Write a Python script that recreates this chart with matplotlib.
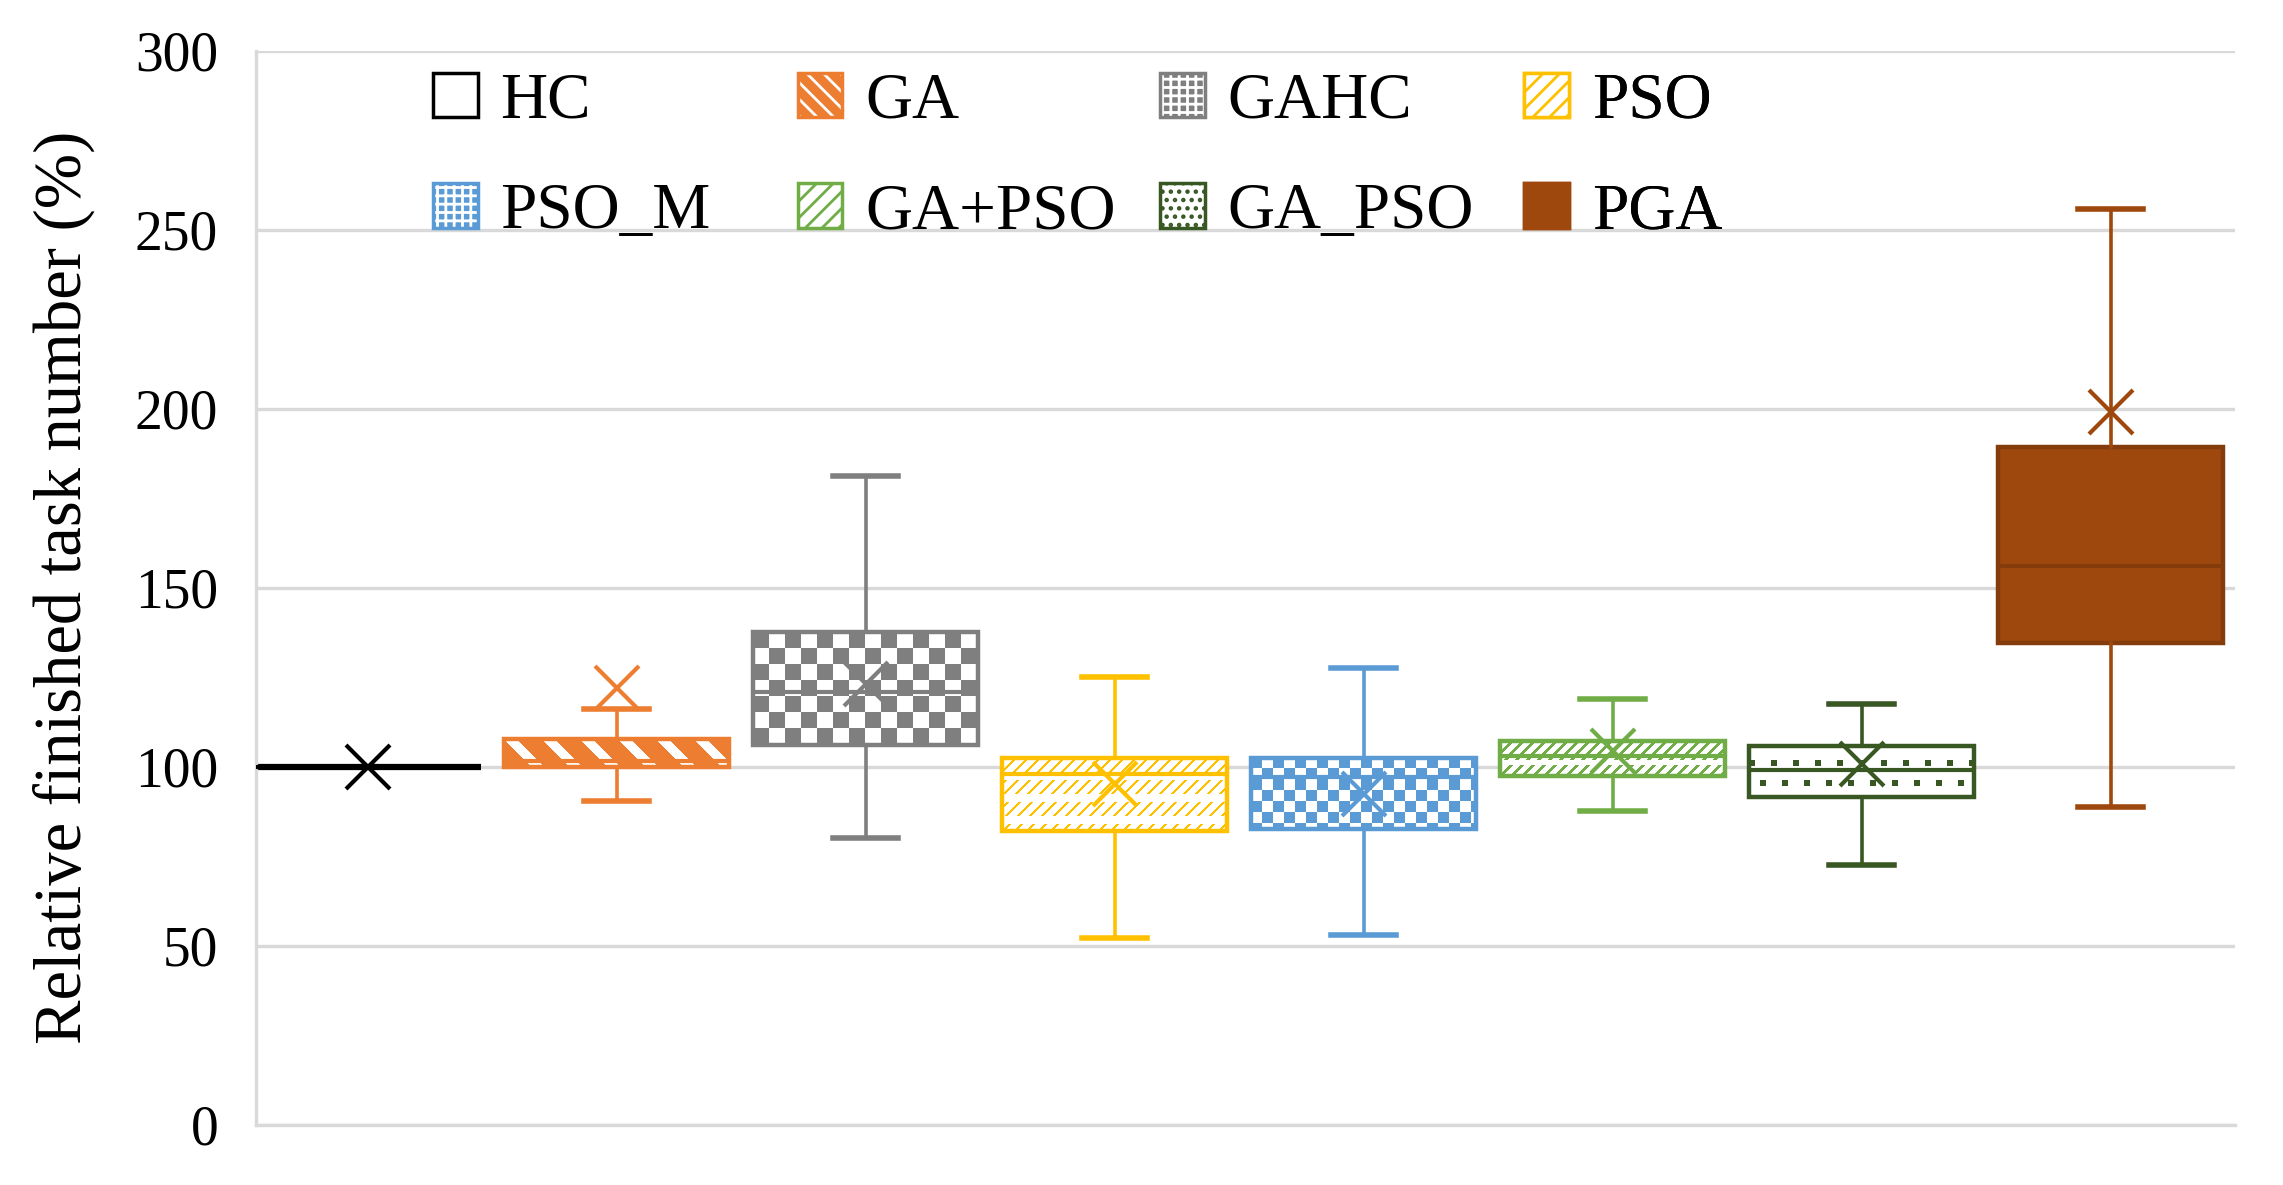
import numpy as np
import matplotlib
matplotlib.use("Agg")
import matplotlib.pyplot as plt
from matplotlib.patches import Patch
from matplotlib.legend_handler import HandlerTuple

plt.rcParams['font.family'] = ['Liberation Serif', 'DejaVu Serif']
plt.rcParams['hatch.linewidth'] = 2.0

# values
names = ['HC', 'GA', 'GAHC', 'PSO', 'PSO_M', 'GA+PSO', 'GA_PSO', 'PGA']
q1 = [100, 100, 106, 82, 82.5, 97.5, 91.5, 134.5]
med = [100, 101.5, 121, 98, 97, 103, 99, 156]
q3 = [100, 107.8, 137.5, 102.3, 102.5, 107.3, 105.7, 189.2]
whislo = [100, 90.3, 80, 52, 53, 87.5, 72.5, 88.8]
whishi = [100, 116, 181.3, 125, 127.7, 119, 117.5, 255.7]
means = [100, 122, 123, 95.2, 92.4, 104.5, 100.7, 199.1]

colors = ['#000000', '#ED7D31', '#7F7F7F', '#FFC000', '#5B9BD5', '#70AD47', '#385723', '#9E480E']
patterns = [None, 'stripe', 'checker_big', 'dash', 'checker', 'diag', 'dots', 'solid']

yticks = [0, 50, 100, 150, 200, 250, 300]


def pattern_mask(kind, h, w):
    r, c = np.mgrid[0:h, 0:w]
    if kind == 'stripe':
        return ~(((c - r) % 38) < 13)
    if kind == 'checker_big':
        return ((r // 16 + c // 16) % 2) == 0
    if kind == 'checker':
        return ((r // 11 + c // 11) % 2) == 0
    if kind == 'dash':
        return (((c + r) % 12) < 3) & ((r % 22) < 14)
    if kind == 'diag':
        return (((c + r) % 11) < 4) & ((r % 24) < 19)
    if kind == 'dots':
        return (((r + 6) % 20) < 6) & (((c + (r // 20 % 2) * 11) % 22) < 6)
    return np.ones((h, w), dtype=bool)


def fill_pattern(ax, box, kind, color, x0, x1, y0, y1):
    p0 = ax.transData.transform((x0, y0))
    p1 = ax.transData.transform((x1, y1))
    w = max(int(round(p1[0] - p0[0])), 1)
    h = max(int(round(p1[1] - p0[1])), 1)
    mask = pattern_mask(kind, h, w)
    rgb = np.array(matplotlib.colors.to_rgb(color))
    img = np.ones((h, w, 3))
    img[mask] = rgb
    im = ax.imshow(img, extent=(x0, x1, y0, y1), aspect='auto',
                   interpolation='nearest', zorder=1.5)
    im.set_clip_path(box)


fig = plt.figure(figsize=(22.83, 11.85), dpi=100)
ax = fig.add_axes([0.112, 0.051, 0.867, 0.906])
ax.set_xlim(0.55, 8.5)
ax.set_ylim(0, 300)

width = 0.906
for i, name in enumerate(names):
    pos = i + 1
    c = colors[i]
    edge = '#843C0C' if name == 'PGA' else c
    stats = [dict(med=med[i], q1=q1[i], q3=q3[i], whislo=whislo[i],
                  whishi=whishi[i], mean=means[i], fliers=[], label=name)]
    lw = 4.5 if name == 'HC' else 3.2
    art = ax.bxp(stats, positions=[pos], widths=width, capwidths=0.26,
                 patch_artist=True, showmeans=True, showfliers=False,
                 boxprops=dict(facecolor=c if name == 'PGA' else 'none',
                               edgecolor=edge, linewidth=lw, zorder=2),
                 medianprops=dict(color=edge, linewidth=3, zorder=3),
                 whiskerprops=dict(color=c, linewidth=2.6, zorder=3),
                 capprops=dict(color=c, linewidth=4, zorder=3),
                 meanprops=dict(marker='x', markeredgecolor=c, markersize=32,
                                markeredgewidth=3, zorder=4))
    if patterns[i] not in (None, 'solid'):
        fill_pattern(ax, art['boxes'][0], patterns[i], c,
                     pos - width / 2, pos + width / 2, q1[i], q3[i])

ax.set_xlim(0.55, 8.5)
ax.set_ylim(0, 300)
ax.set_xticks([])
ax.set_yticks(yticks)
ax.tick_params(axis='y', length=0, pad=27, labelsize=40)
ax.yaxis.grid(True, color='#D9D9D9', linewidth=2.4)
ax.set_axisbelow(True)
for s in ['top', 'right']:
    ax.spines[s].set_visible(False)
for s in ['left', 'bottom']:
    ax.spines[s].set_color('#D9D9D9')
    ax.spines[s].set_linewidth(2.4)

ax.set_ylabel('Relative finished task number (%)', fontsize=48)
ax.yaxis.set_label_coords(-0.081, 0.5)

# legend, one column at a time so the columns keep an even pitch
leg_hatch = [None, '\\\\', '++', '//', '++', '//', '..', None]
handles = []
for i, name in enumerate(names):
    c = colors[i]
    if name == 'HC':
        h = Patch(facecolor='white', edgecolor=c, linewidth=2.5)
    elif name in ('GA', 'GAHC', 'PSO_M'):
        h = (Patch(facecolor=c, edgecolor='white', hatch=leg_hatch[i], linewidth=0),
             Patch(facecolor='none', edgecolor=c, linewidth=2.5))
    elif name == 'PGA':
        h = Patch(facecolor=c, edgecolor=c, linewidth=2.5)
    else:
        h = Patch(facecolor='white', edgecolor=c, hatch=leg_hatch[i], linewidth=2.5)
    handles.append(h)

col_x = [0.0897, 0.274, 0.457, 0.641]
for k in range(4):
    leg = ax.legend([handles[k], handles[k + 4]], [names[k], names[k + 4]],
                    loc='upper left', bbox_to_anchor=(col_x[k], 0.98),
                    frameon=False, fontsize=47, handlelength=0.68,
                    handleheight=0.68, handletextpad=0.35, labelspacing=0.78,
                    borderpad=0, borderaxespad=0,
                    handler_map={tuple: HandlerTuple(ndivide=1)})
    ax.add_artist(leg)

fig.savefig('out.png', dpi=100)
